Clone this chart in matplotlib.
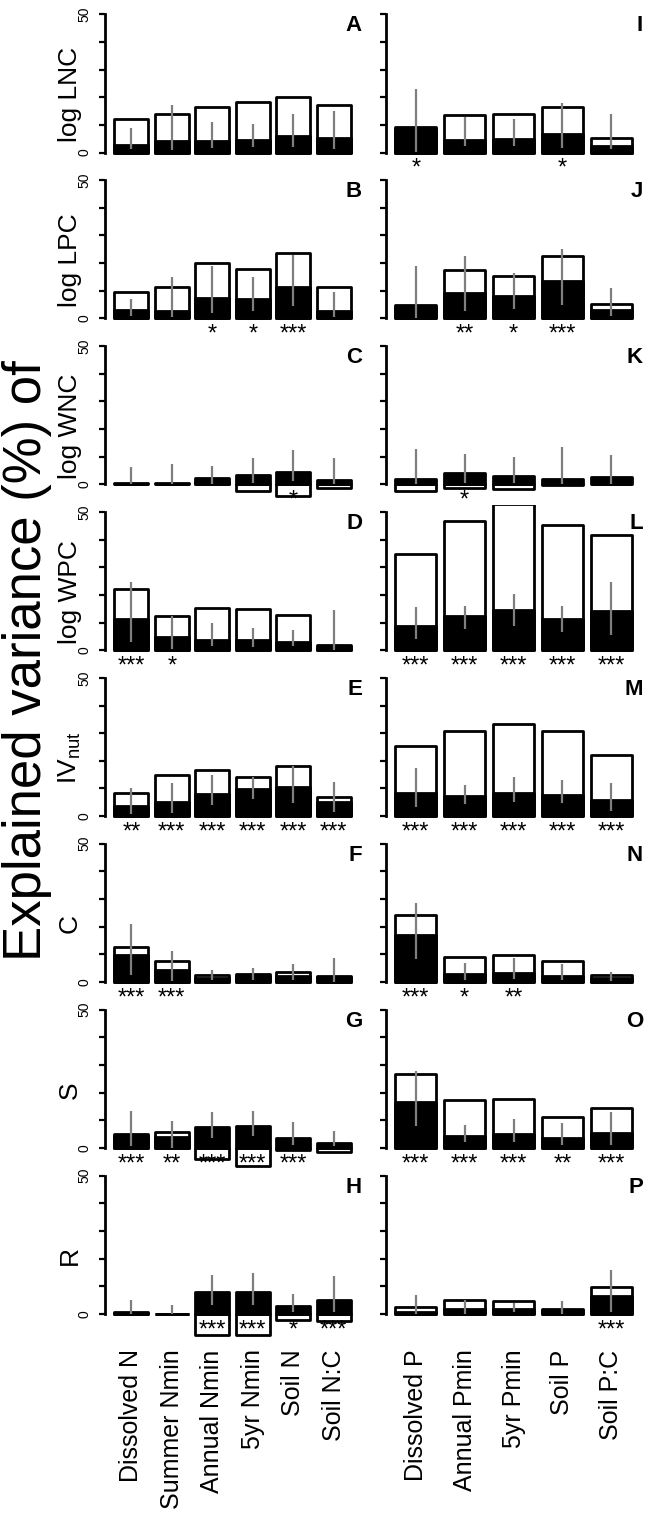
import matplotlib
matplotlib.use('Agg')
import matplotlib.pyplot as plt
import matplotlib.transforms as mtransforms

plt.rcParams['font.family'] = ['Liberation Sans', 'DejaVu Sans']
plt.rcParams['mathtext.fontset'] = 'custom'
plt.rcParams['mathtext.rm'] = 'Liberation Sans'
plt.rcParams['mathtext.it'] = 'Liberation Sans:italic'
plt.rcParams['mathtext.bf'] = 'Liberation Sans:bold'

# ---------------- data ----------------
n_categories = ['Dissolved N', 'Summer Nmin', 'Annual Nmin', '5yr Nmin', 'Soil N', 'Soil N:C']
p_categories = ['Dissolved P', 'Annual Pmin', '5yr Pmin', 'Soil P', 'Soil P:C']
row_labels = ['log LNC', 'log LPC', 'log WNC', 'log WPC', r'IV$_{\mathrm{nut}}$', 'C', 'S', 'R']
n_letters = ['A', 'B', 'C', 'D', 'E', 'F', 'G', 'H']
p_letters = ['I', 'J', 'K', 'L', 'M', 'N', 'O', 'P']

# total explained variance (white bars), N column
n_total = [
    [12.2, 13.9, 16.5, 18.4, 20.0, 17.0],
    [9.6, 11.3, 20.2, 18.0, 23.8, 11.4],
    [0.2, 0.2, 1.0, -2.3, -4.3, -1.3],
    [22.0, 12.5, 15.3, 15.0, 12.9, 1.2],
    [8.5, 14.7, 16.6, 14.2, 18.2, 6.8],
    [12.7, 7.7, 2.7, 2.3, 3.6, 1.8],
    [4.4, 5.6, -4.1, -6.4, -0.9, -1.4],
    [0.3, 0.1, -7.5, -7.5, -2.4, -2.7],
]
# component (black bars), N column
n_black = [
    [2.8, 4.2, 4.0, 4.6, 6.0, 5.4],
    [2.9, 2.5, 7.4, 6.9, 11.4, 2.5],
    [0.5, 0.5, 2.1, 3.5, 4.3, 1.5],
    [11.4, 4.6, 3.7, 3.7, 3.1, 1.7],
    [3.8, 5.2, 8.1, 9.7, 10.5, 5.1],
    [9.9, 4.4, 1.6, 2.8, 2.3, 2.3],
    [4.9, 3.8, 7.5, 8.0, 3.7, 1.7],
    [0.7, 0.1, 7.8, 7.8, 2.7, 5.1],
]
n_lo = [
    [1.1, 0.8, 1.8, 2.0, 2.0, 1.4],
    [1.0, 0.6, 1.9, 2.5, 4.6, 0.6],
    [0.0, 0.0, 0.0, 0.6, 1.2, 0.0],
    [3.0, 0.6, 1.5, 1.2, 1.5, 0.0],
    [0.8, 1.1, 4.1, 6.3, 4.7, 1.5],
    [2.7, 0.5, 0.6, 0.6, 0.6, 0.0],
    [0.6, 0.0, 3.6, 4.2, 1.2, 0.6],
    [0.0, 0.0, 3.2, 3.2, 0.5, 0.5],
]
n_hi = [
    [8.7, 17.3, 11.0, 10.2, 13.9, 15.0],
    [7.0, 14.9, 19.1, 14.9, 22.8, 9.4],
    [6.3, 7.5, 6.7, 9.4, 12.3, 9.6],
    [24.6, 12.4, 10.0, 8.1, 7.3, 14.6],
    [10.3, 12.0, 14.8, 14.2, 18.1, 12.3],
    [21.1, 11.1, 4.2, 5.2, 6.4, 8.6],
    [13.5, 9.6, 12.9, 13.5, 9.4, 6.0],
    [5.0, 3.2, 14.0, 14.6, 7.2, 13.7],
]
n_stars = [
    ['', '', '', '', '', ''],
    ['', '', '*', '*', '***', ''],
    ['', '', '', '', '*', ''],
    ['***', '*', '', '', '', ''],
    ['**', '***', '***', '***', '***', '***'],
    ['***', '***', '', '', '', ''],
    ['***', '**', '***', '***', '***', ''],
    ['', '', '***', '***', '*', '***'],
]

# P column
p_total = [
    [8.5, 13.6, 13.9, 16.3, 5.2],
    [4.3, 17.4, 15.4, 22.6, 5.2],
    [-2.5, -1.3, -1.7, -0.4, 0.2],
    [34.9, 46.6, 53.0, 45.3, 41.7],
    [25.5, 30.8, 33.4, 30.8, 22.2],
    [24.2, 9.0, 9.6, 7.5, 2.6],
    [26.9, 17.3, 17.6, 11.0, 14.3],
    [2.6, 5.1, 4.8, 1.4, 9.7],
]
p_black = [
    [9.1, 4.6, 4.9, 6.7, 2.5],
    [4.9, 9.2, 8.0, 13.4, 2.9],
    [1.9, 4.1, 3.1, 1.9, 2.5],
    [8.6, 12.2, 14.7, 11.2, 14.3],
    [8.5, 7.3, 8.5, 7.6, 5.8],
    [16.9, 2.8, 3.1, 2.2, 1.3],
    [16.7, 4.3, 4.9, 3.7, 5.5],
    [0.8, 1.9, 1.9, 1.9, 6.5],
]
p_lo = [
    [0.2, 2.4, 2.4, 1.8, 1.1],
    [0.0, 2.5, 3.4, 5.0, 1.0],
    [0.0, 0.6, 0.6, 0.0, 0.0],
    [4.2, 7.6, 8.9, 6.6, 5.5],
    [3.3, 4.5, 5.0, 4.7, 1.8],
    [8.2, 0.9, 1.1, 0.6, 0.2],
    [8.1, 2.2, 2.2, 1.2, 1.0],
    [0.0, 0.0, 0.5, 0.0, 0.5],
]
p_hi = [
    [22.8, 12.9, 12.0, 18.0, 13.9],
    [19.1, 22.4, 16.3, 25.2, 11.0],
    [12.7, 11.0, 9.9, 13.5, 10.5],
    [15.8, 16.0, 20.2, 16.0, 24.8],
    [17.5, 11.2, 14.0, 13.0, 11.8],
    [28.5, 6.8, 8.5, 6.4, 3.7],
    [27.7, 8.2, 10.6, 9.0, 12.9],
    [6.8, 5.0, 4.0, 4.6, 16.0],
]
p_stars = [
    ['*', '', '', '*', ''],
    ['', '**', '*', '***', ''],
    ['', '*', '', '', ''],
    ['***', '***', '***', '***', '***'],
    ['***', '***', '***', '***', '***'],
    ['***', '*', '**', '', ''],
    ['***', '***', '***', '**', '***'],
    ['', '', '', '', '***'],
]

# ---------------- layout ----------------
W, H = 648, 1521
fig = plt.figure(figsize=(W / 100, H / 100), dpi=100)

ROW0 = 152.5      # pixel row of y=0 in first row
PERIOD = 165.9    # pixel distance between rows
PPU = 2.765       # pixels per unit
YLO, YHI = -12.4, 52.4
AX_W = 255


def make_axes(left_px, r):
    y0 = ROW0 + PERIOD * r
    bottom_px = y0 - YLO * PPU
    height_px = (YHI - YLO) * PPU
    return fig.add_axes([left_px / W, 1 - bottom_px / H, AX_W / W, height_px / H])


def draw_panel(ax, cats, total, black, lo, hi, stars, letter, xlim,
               left_col, ylabel, bottom):
    x = [0.7 + 1.2 * i for i in range(len(cats))]
    ax.bar(x, total, width=1.0, color='white', edgecolor='black',
           linewidth=2.0, zorder=2, joinstyle='round')
    ax.bar(x, black, width=1.0, color='black', edgecolor='black',
           linewidth=2.0, zorder=3, joinstyle='round')
    ax.vlines(x, lo, hi, colors='#7f7f7f', linewidth=1.6, zorder=4)
    for xi, s in zip(x, stars):
        if s:
            ax.text(xi, -8.1, s, ha='center', va='baseline', fontsize=17,
                    clip_on=False, zorder=6)
    ax.set_xlim(*xlim)
    ax.set_ylim(YLO, YHI)
    ax.set_facecolor('none')
    for sp in ('top', 'right', 'bottom'):
        ax.spines[sp].set_visible(False)
    ax.spines['left'].set_bounds(0, 50)
    ax.spines['left'].set_linewidth(2.0)
    ax.set_yticks([0, 10, 20, 30, 40, 50])
    if left_col:
        ax.set_yticklabels(['0', '', '', '', '', '50'], rotation=90,
                           va='center', fontsize=10)
    else:
        ax.set_yticklabels([])
    ax.tick_params(axis='y', direction='out', length=4.5, width=1.6, pad=5)
    trans = mtransforms.blended_transform_factory(ax.transAxes, ax.transData)
    ax.text(1.008, 43.8, letter, transform=trans, ha='right', va='baseline',
            fontsize=16, fontweight='bold', zorder=1)
    if left_col:
        ax.set_ylabel(ylabel, fontsize=19, ha='center', va='center')
        ax.yaxis.set_label_coords(-0.137, (21 - YLO) / (YHI - YLO))
    if bottom:
        ax.set_xticks(x, cats, rotation=90, fontsize=18)
        ax.tick_params(axis='x', length=0, pad=1)
    else:
        ax.set_xticks([])


for r in range(8):
    axl = make_axes(105, r)
    draw_panel(axl, n_categories, n_total[r], n_black[r], n_lo[r], n_hi[r],
               n_stars[r], n_letters[r], (-0.08, 7.48), True, row_labels[r],
               r == 7)
    axr = make_axes(386, r)
    draw_panel(axr, p_categories, p_total[r], p_black[r], p_lo[r], p_hi[r],
               p_stars[r], p_letters[r], (-0.032, 6.232), False, None,
               r == 7)

fig.text(27 / W, 1 - 661 / H, 'Explained variance (%) of', rotation=90,
         fontsize=38, ha='center', va='center')

fig.savefig('out.png', dpi=100)
